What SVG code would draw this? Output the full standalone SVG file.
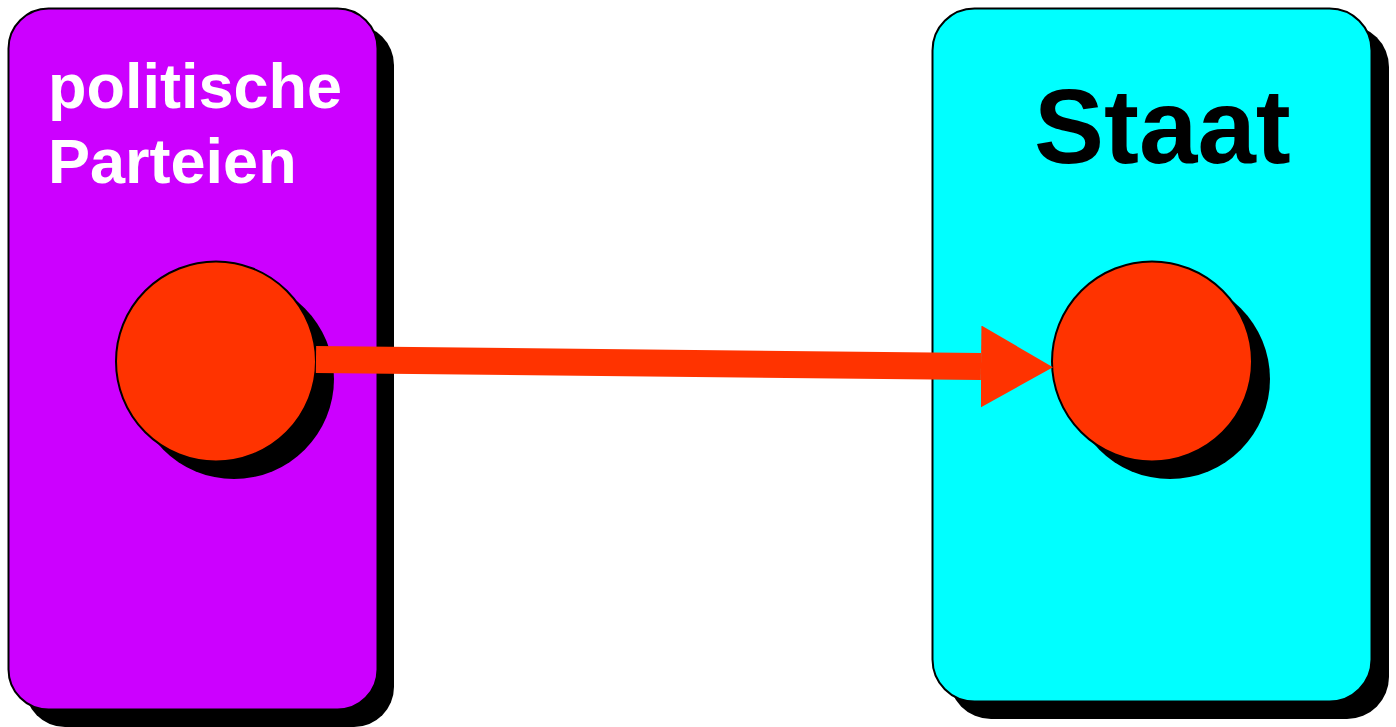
<svg xmlns="http://www.w3.org/2000/svg" width="1396" height="727" viewBox="0 0 1396 727">
<style>
.shadow{fill:#000}
.box{stroke:#000;stroke-width:2}
.dot{fill:#FF3300;stroke:#000;stroke-width:2}
.lbl{font-family:"Liberation Sans",Arial,Helvetica,sans-serif;font-weight:bold}
.conn{fill:none;stroke:#FF3300;stroke-width:27;stroke-linecap:butt}
</style>
<defs>
<marker id="head" markerUnits="userSpaceOnUse" markerWidth="74" markerHeight="84" refX="0" refY="41" orient="auto" viewBox="0 0 74 84">
<polygon points="0,0 72,41 0,82" fill="#FF3300"/>
</marker>
</defs>
<rect width="1396" height="727" fill="#fff"/>
<g id="node-parteien">
<rect class="shadow" x="25" y="25" width="369" height="702" rx="40"/>
<rect class="box" x="8.5" y="8.5" width="369" height="701" rx="40" fill="#CC00FF"/>
<text class="lbl" x="48" y="108" font-size="63" fill="#fff">politische</text>
<text class="lbl" x="48" y="183" font-size="63" fill="#fff">Parteien</text>
</g>
<g id="node-parteien-dot">
<circle class="shadow" cx="234" cy="379" r="100"/>
<circle class="dot" cx="216" cy="361.5" r="100"/>
</g>
<g id="node-staat">
<rect class="shadow" x="949" y="25" width="440" height="694" rx="42"/>
<rect class="box" x="932.5" y="8.5" width="439" height="693" rx="42" fill="#00FFFF"/>
<text class="lbl" x="1034" y="163" font-size="105" fill="#000">Staat</text>
</g>
<g id="node-staat-dot">
<circle class="shadow" cx="1170" cy="379" r="100"/>
<circle class="dot" cx="1152" cy="361.5" r="100"/>
</g>
<g id="connectors">
<path class="conn" d="M316,359.5 L981,366.5" marker-end="url(#head)"/>
</g>
</svg>
